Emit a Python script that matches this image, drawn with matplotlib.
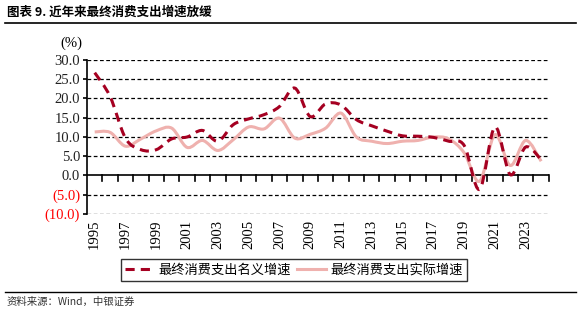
import matplotlib
matplotlib.use("Agg")
import matplotlib.pyplot as plt
import numpy as np
from matplotlib.path import Path
from matplotlib.patches import PathPatch
from matplotlib.lines import Line2D

years = list(range(1995, 2025))
nominal = [26.7, 20.5, 9.7, 6.7, 6.7, 9.5, 10.0, 11.7, 8.9, 13.2, 14.7, 15.8, 17.9, 22.7, 15.3,
           18.6, 18.3, 14.5, 12.9, 11.5, 10.3, 10.2, 9.9, 8.9, 7.8, -3.6, 12.6, 0.2, 7.4, 4.1]
real = [11.3, 11.2, 7.6, 9.5, 11.6, 12.3, 7.3, 9.1, 6.5, 9.3, 12.6, 12.1, 14.9, 9.7, 10.7,
        12.3, 16.2, 10.0, 8.9, 8.3, 8.9, 9.1, 10.0, 9.5, 5.9, -1.5, 10.6, 2.6, 9.1, 3.7]
yticks = [30, 25, 20, 15, 10, 5, 0, -5, -10]
ytick_labels = ["30.0", "25.0", "20.0", "15.0", "10.0", "5.0", "0.0", "(5.0)", "(10.0)"]
label_nominal = "最终消费支出名义增速"
label_real = "最终消费支出实际增速"
title = "图表 9. 近年来最终消费支出增速放缓"
source = "资料来源：Wind，中银证券"

serif = ["Liberation Serif", "DejaVu Serif"]
cjk = ["Noto Sans CJK SC", "DejaVu Sans"]

def smooth_path(xs, ys, t=1/6):
    xs = np.asarray(xs, float); ys = np.asarray(ys, float)
    verts = [(xs[0], ys[0])]
    codes = [Path.MOVETO]
    n = len(xs)
    for i in range(n - 1):
        p0 = (xs[max(i - 1, 0)], ys[max(i - 1, 0)])
        p1 = (xs[i], ys[i]); p2 = (xs[i + 1], ys[i + 1])
        p3 = (xs[min(i + 2, n - 1)], ys[min(i + 2, n - 1)])
        c1 = (p1[0] + (p2[0] - p0[0]) * t, p1[1] + (p2[1] - p0[1]) * t)
        c2 = (p2[0] - (p3[0] - p1[0]) * t, p2[1] - (p3[1] - p1[1]) * t)
        verts += [c1, c2, p2]
        codes += [Path.CURVE4] * 3
    return Path(verts, codes)

fig = plt.figure(figsize=(5.82, 3.26), dpi=100)
ax = fig.add_axes([0.1495, 0.3436, 0.7935, 0.4724])

x = np.arange(len(years))
nom_color = "#A50021"
real_color = "#EFB1AE"

ax.add_patch(PathPatch(smooth_path(x, real), fill=False, edgecolor=real_color, lw=2.2, zorder=3))
ax.add_patch(PathPatch(smooth_path(x, nominal), fill=False, edgecolor=nom_color, lw=2.2,
                       linestyle=(0, (3, 2)), zorder=4))

ax.set_xlim(-0.5, len(years) - 0.5)
ax.set_ylim(-10, 30)

for v in yticks:
    if v != 0:
        ax.axhline(v, color="black", lw=0.9, linestyle=(0, (3, 2)), zorder=1)
ax.axhline(0, color="black", lw=1.2, zorder=2)
for b in np.arange(0.5, len(years) - 0.5 + 1e-9, 1.0):
    ax.plot([b, b], [0, -1.4], color="black", lw=1.2, zorder=2, clip_on=False)

for s in ["top", "right", "bottom"]:
    ax.spines[s].set_visible(False)
ax.spines["left"].set_linewidth(1.2)

ax.set_yticks(yticks)
ax.set_yticklabels(ytick_labels, fontfamily=serif, fontsize=10.5)
for lbl, v in zip(ax.get_yticklabels(), yticks):
    lbl.set_color("red" if v < 0 else "#222222")
ax.tick_params(axis="y", direction="out", length=3, width=1.2, pad=2)

ax.set_xticks(x[::2])
ax.set_xticklabels([str(y) for y in years[::2]], rotation=90, fontfamily=serif, fontsize=10.5)
ax.tick_params(axis="x", length=0, pad=4)

fig.text(0.103, 0.868, "(%)", fontfamily=serif, fontsize=10.5, ha="left", va="center")

handles = [Line2D([], [], color=nom_color, lw=2.2, linestyle=(0, (3, 2))),
           Line2D([], [], color=real_color, lw=2.2)]
leg = fig.legend(handles, [label_nominal, label_real], loc="center",
                 bbox_to_anchor=(0.505, 0.172), ncol=2, frameon=True, fancybox=False,
                 prop={"family": cjk, "size": 9.5}, handlelength=2.2, columnspacing=0.5,
                 handletextpad=0.3, borderpad=0.35, borderaxespad=0)
leg.get_frame().set_edgecolor("black")
leg.get_frame().set_linewidth(1.0)

fig.text(0.012, 0.962, title, fontfamily=cjk, fontsize=9, fontweight="bold", ha="left", va="center")
fig.add_artist(Line2D([0.009, 0.99], [0.928, 0.928], color="black", lw=1.2, transform=fig.transFigure))
fig.add_artist(Line2D([0.009, 0.99], [0.105, 0.105], color="black", lw=1.0, transform=fig.transFigure))
fig.text(0.012, 0.075, source, fontfamily=cjk, fontsize=7.5, fontstyle="italic", ha="left", va="center",
         color="#333333")

fig.savefig("out.png", dpi=100)
